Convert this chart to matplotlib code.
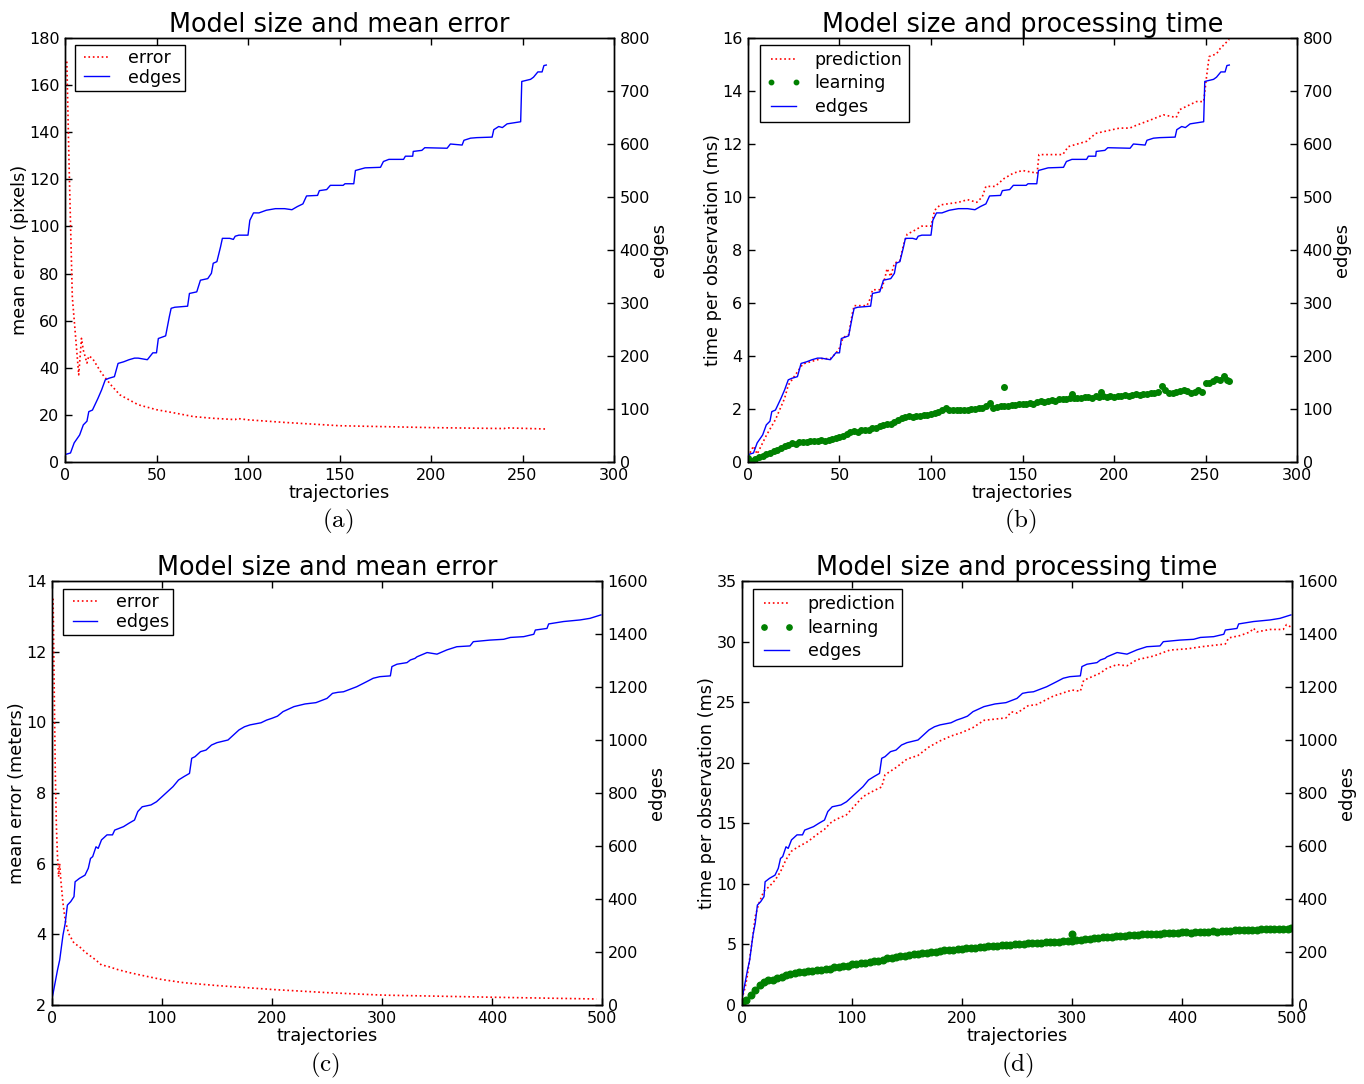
import numpy as np
import matplotlib
matplotlib.use('Agg')
import matplotlib.pyplot as plt

# ---- data ----
# top row: 264 trajectories, edges are the same model in (a) and (b)
edges_top_x = [0, 3, 5, 8, 10, 12, 13, 15, 18, 20, 22, 24, 27, 29, 32, 35, 38, 40, 45, 48, 50, 51, 55, 57, 58, 60,
               67, 68, 72, 74, 78, 80, 81, 83, 85, 86, 90, 92, 93, 95, 100, 101, 103, 106, 110, 115, 120, 124, 127,
               130, 132, 138, 139, 143, 145, 152, 153, 157.8, 158.7, 164, 172.4, 174, 177, 185, 186, 190, 190.3, 195,
               196.6, 208.8, 210.6, 217, 218, 221.6, 225, 233.4, 234.3, 237, 239, 241.6, 249, 249.6, 254.4, 256,
               258.4, 260.7, 261.7, 263]
edges_top = [14, 17, 36, 51, 70, 77, 95, 98, 120, 136, 155, 158, 161, 186, 189, 193, 196, 196, 193, 206, 206, 233,
             238, 274, 290, 292, 294, 318, 321, 343, 346, 356, 375, 378, 406, 422, 422, 420, 426, 428, 428, 456, 470,
             470, 475, 478, 478, 476, 482, 487, 502, 503, 512, 514, 522, 522, 525, 525, 550, 555, 556, 567, 571, 571,
             577, 577, 586, 588, 593, 592, 600, 598, 607, 611, 612, 613, 627, 633, 631, 638, 642, 718, 722, 726, 736,
             736, 748, 749]

error_a_x = [1, 2.2, 4, 7.5, 9, 10, 12, 13, 15, 20, 25, 30, 35, 40, 50, 60, 70, 80, 93, 94, 100, 120, 150, 200,
             240, 241, 263]
error_a = [170, 127, 70, 37, 52.5, 47.5, 42, 45, 44, 37.7, 32.8, 28.5, 26.4, 24.3, 22.2, 20.8, 19.3, 18.6, 18.0,
           18.5, 17.9, 16.8, 15.4, 14.6, 14.2, 14.5, 14.0]

pred_b_x = [0, 3, 5, 10, 15, 20, 22, 25, 28, 30, 35, 40, 45, 48, 50, 52, 55, 57, 58, 65, 67, 68, 73, 75, 76, 78, 80,
            83, 85, 87, 90, 95, 100, 102, 105, 115, 120, 125, 128, 130, 135, 140, 145, 150, 158, 159, 172, 175, 185,
            190, 203, 208.6, 212, 219.7, 227, 234, 236, 245, 249, 250.5, 252, 256, 258, 263]
pred_b = [0.2, 0.6, 0.3, 1.0, 1.6, 2.4, 2.9, 3.2, 3.5, 3.7, 3.8, 3.9, 3.9, 4.1, 4.3, 4.7, 4.8, 5.6, 5.9, 5.9, 6.2,
          6.5, 6.5, 7.0, 7.3, 7.0, 7.5, 7.6, 8.2, 8.6, 8.7, 8.9, 8.9, 9.5, 9.7, 9.8, 9.9, 9.8, 10.0, 10.4, 10.4,
          10.7, 10.9, 11.0, 10.9, 11.6, 11.6, 11.9, 12.1, 12.4, 12.6, 12.6, 12.7, 12.9, 13.1, 13.0, 13.3, 13.6, 13.6,
          14.5, 15.3, 15.4, 15.6, 15.95]

learn_b_x = np.arange(0, 264, 2)
learn_b = [0.15, 0.05, 0.12, 0.18, 0.22, 0.3, 0.34, 0.42, 0.45, 0.52, 0.6, 0.66, 0.7, 0.68, 0.74, 0.76, 0.74, 0.78,
           0.8, 0.8, 0.83, 0.8, 0.84, 0.87, 0.9, 0.95, 1.0, 1.05, 1.15, 1.18, 1.15, 1.2, 1.2, 1.22, 1.28, 1.3, 1.35,
           1.38, 1.42, 1.45, 1.5, 1.58, 1.65, 1.68, 1.72, 1.7, 1.75, 1.74, 1.76, 1.78, 1.8, 1.86, 1.9, 1.95, 2.02,
           1.95, 1.97, 1.96, 1.98, 1.95, 1.97, 1.99, 2.0, 2.02, 2.05, 2.12, 2.22, 2.02, 2.08, 2.1, 2.12, 2.1, 2.15,
           2.14, 2.2, 2.18, 2.2, 2.22, 2.2, 2.28, 2.3, 2.28, 2.32, 2.34, 2.3, 2.36, 2.38, 2.36, 2.42, 2.4, 2.42, 2.4,
           2.44, 2.45, 2.43, 2.48, 2.47, 2.5, 2.46, 2.48, 2.47, 2.5, 2.48, 2.52, 2.5, 2.53, 2.55, 2.52, 2.58, 2.56,
           2.6, 2.62, 2.66, 2.88, 2.7, 2.6, 2.62, 2.64, 2.68, 2.72, 2.68, 2.62, 2.66, 2.7, 2.66, 3.0, 2.98, 3.05,
           3.12, 3.08, 3.25, 3.1]
learn_b_extra_x = [140, 177, 193, 263]
learn_b_extra = [2.82, 2.58, 2.64, 3.06]

# bottom row: 500 trajectories, edges shared by (c) and (d)
edges_bot_x = [0, 1, 3, 5, 7, 9, 10, 12, 14, 17, 20, 21, 25, 30, 33, 35, 37, 40, 42, 45, 50, 55, 57, 65, 70, 75, 78,
               82, 90, 95, 100, 105, 110, 115, 120, 125, 127, 130, 135, 140, 145, 150, 160, 165, 170, 175, 180, 190,
               195, 200, 205, 210, 220, 230, 240, 250, 255, 260, 265, 277, 286, 292, 298, 307.6, 309, 313.6, 322.7,
               325.8, 330, 331.8, 341, 350, 359, 368, 380, 383, 398, 410.6, 416.7, 428.8, 438, 439.4, 450, 451.5,
               465, 480, 489, 499]
edges_bot = [25, 44, 88, 132, 170, 233, 264, 308, 377, 390, 409, 465, 478, 490, 516, 553, 560, 597, 591, 623, 642,
             642, 660, 673, 686, 698, 730, 748, 755, 767, 786, 805, 824, 849, 862, 874, 931, 937, 956, 962, 981, 990,
             1000, 1019, 1038, 1050, 1057, 1065, 1075, 1082, 1090, 1107, 1126, 1136, 1141, 1157, 1176, 1180, 1182,
             1201, 1220, 1233, 1239, 1242, 1277, 1286, 1292, 1302, 1308, 1314, 1330, 1324, 1340, 1352, 1355, 1371,
             1377, 1380, 1387, 1390, 1399, 1415, 1421, 1438, 1447, 1453, 1459, 1472]

error_c_x = [1, 2, 3, 4, 5, 6, 7, 8, 10, 12, 15, 20, 25, 30, 40, 45, 50, 60, 70, 80, 100, 120, 150, 200, 250, 300,
             400, 495]
error_c = [13.5, 11.0, 8.56, 7.05, 6.2, 5.63, 6.0, 5.54, 4.88, 4.4, 4.03, 3.75, 3.65, 3.5, 3.27, 3.13, 3.1, 3.0,
           2.92, 2.85, 2.72, 2.63, 2.55, 2.44, 2.35, 2.28, 2.22, 2.17]

pred_d_x = [0, 3, 5, 8, 10, 12, 15, 18, 20, 25, 30, 35, 40, 45, 50, 60, 70, 75, 80, 85, 95, 100, 110, 120, 127, 130,
            140, 150, 160, 170, 180, 190, 200, 210, 220, 230, 240, 245, 250, 260, 268, 283, 300, 307.6, 310.6, 325.8,
            331.8, 341, 350, 359, 374, 380, 389, 404.5, 420, 439.4, 442.4, 453, 462, 465, 468, 480, 492, 495, 499]
pred_d = [0.5, 1.5, 2.5, 4.5, 5.8, 7.3, 8.3, 9.0, 9.4, 9.8, 10.3, 11.0, 12.0, 12.7, 13.0, 13.5, 14.2, 14.5, 15.0,
          15.3, 15.7, 16.2, 17.2, 17.7, 18.0, 19.0, 19.6, 20.3, 20.6, 21.3, 21.8, 22.2, 22.5, 22.9, 23.5, 23.6, 23.7,
          24.2, 24.1, 24.7, 24.8, 25.5, 26.0, 25.9, 26.8, 27.4, 27.8, 28.1, 28.0, 28.5, 28.8, 29.0, 29.3, 29.4, 29.6,
          29.8, 30.3, 30.5, 30.8, 31.1, 30.8, 31.0, 31.0, 31.4, 31.2]

learn_d_x = np.arange(0, 500, 4)
learn_d = [0.1, 0.4, 0.8, 1.25, 1.65, 1.9, 2.05, 2.1, 2.25, 2.3, 2.45, 2.55, 2.65, 2.7, 2.75, 2.8, 2.82, 2.9, 2.88,
           2.95, 3.0, 3.1, 3.15, 3.2, 3.25, 3.35, 3.38, 3.45, 3.5, 3.52, 3.6, 3.65, 3.72, 3.85, 3.9, 3.98, 4.02, 4.08,
           4.12, 4.2, 4.25, 4.28, 4.3, 4.35, 4.4, 4.48, 4.5, 4.55, 4.56, 4.6, 4.62, 4.68, 4.7, 4.72, 4.78, 4.82, 4.85,
           4.88, 4.9, 4.94, 4.96, 4.98, 5.0, 5.04, 5.06, 5.08, 5.1, 5.12, 5.15, 5.18, 5.2, 5.22, 5.24, 5.28, 5.3,
           5.32, 5.35, 5.38, 5.42, 5.45, 5.5, 5.55, 5.58, 5.6, 5.65, 5.68, 5.72, 5.7, 5.75, 5.78, 5.8, 5.82, 5.85,
           5.88, 5.86, 5.9, 5.92, 5.95, 5.94, 5.98, 6.0, 6.02, 5.98, 6.02, 6.04, 6.05, 6.06, 6.08, 6.06, 6.1, 6.12,
           6.14, 6.15, 6.18, 6.18, 6.2, 6.22, 6.2, 6.24, 6.25, 6.24, 6.26, 6.28, 6.27, 6.3]
learn_d_extra_x = [300, 499]
learn_d_extra = [5.9, 6.35]

plt.rcParams['font.family'] = 'DejaVu Sans'
plt.rcParams['mathtext.fontset'] = 'cm'
fig = plt.figure(figsize=(13.64, 10.84), dpi=100)
W, H = 1364.0, 1084.0


def make_axes(left, top, right, bottom):
    return fig.add_axes([left / W, 1 - bottom / H, (right - left) / W, (bottom - top) / H])


def style(ax, ax2):
    for a in (ax, ax2):
        a.tick_params(direction='in', labelsize=11.5, length=5, width=1, pad=4)
        for s in a.spines.values():
            s.set_linewidth(1)
    ax.tick_params(axis='x', top=True)


def finish(ax, ax2, xmax, xstep, ylim, ystep, ylim2, ystep2, ylabel, title):
    ax.set_xlim(0, xmax)
    ax.set_xticks(np.arange(0, xmax + 1, xstep))
    ax.set_ylim(*ylim)
    ax.set_yticks(np.arange(ylim[0], ylim[1] + 0.01, ystep))
    ax2.set_ylim(*ylim2)
    ax2.set_yticks(np.arange(ylim2[0], ylim2[1] + 1, ystep2))
    ax.set_xlabel('trajectories', fontsize=12.8, labelpad=1)
    ax.set_ylabel(ylabel, fontsize=12.8, labelpad=0)
    ax2.set_ylabel('edges', fontsize=12.8, labelpad=0)
    ax.set_title(title, fontsize=18.4, pad=4)


def legend(ax2, handles, labels, anchor, spacing, pad):
    leg = ax2.legend(handles, labels, loc='upper left', bbox_to_anchor=anchor, borderaxespad=0,
                     fontsize=12.5, fancybox=False, framealpha=1, edgecolor='black',
                     handlelength=2.0, handletextpad=0.8, borderpad=pad, labelspacing=spacing, numpoints=2,
                     markerscale=0.8)
    leg.get_frame().set_linewidth(1)


# (a)
ax = make_axes(65, 38, 614, 462)
ax2 = ax.twinx()
l1, = ax.plot(error_a_x, error_a, 'r:', lw=1.2, label='error')
l2, = ax2.plot(edges_top_x, edges_top, 'b-', lw=1, label='edges')
finish(ax, ax2, 300, 50, (0, 180), 20, (0, 800), 100, 'mean error (pixels)', 'Model size and mean error')
style(ax, ax2)
legend(ax2, [l1, l2], ['error', 'edges'], (0.018, 0.984), 0.08, 0.25)

# (b)
ax = make_axes(748, 38, 1297, 462)
ax2 = ax.twinx()
l1, = ax.plot(pred_b_x, pred_b, 'r:', lw=1.2, label='prediction')
l3, = ax.plot(learn_b_x, learn_b, '.', color='green', ms=8, ls='none', label='learning')
ax.plot(learn_b_extra_x, learn_b_extra, '.', color='green', ms=8, ls='none')
l2, = ax2.plot(edges_top_x, edges_top, 'b-', lw=1, label='edges')
finish(ax, ax2, 300, 50, (0, 16), 2, (0, 800), 100, 'time per observation (ms)', 'Model size and processing time')
style(ax, ax2)
legend(ax2, [l1, l3, l2], ['prediction', 'learning', 'edges'], (0.022, 0.984), 0.32, 0.35)

# (c)
ax = make_axes(52, 581, 602, 1005)
ax2 = ax.twinx()
l1, = ax.plot(error_c_x, error_c, 'r:', lw=1.2, label='error')
l2, = ax2.plot(edges_bot_x, edges_bot, 'b-', lw=1, label='edges')
finish(ax, ax2, 500, 100, (2, 14), 2, (0, 1600), 200, 'mean error (meters)', 'Model size and mean error')
style(ax, ax2)
legend(ax2, [l1, l2], ['error', 'edges'], (0.02, 0.981), 0.08, 0.25)

# (d)
ax = make_axes(742, 581, 1292, 1005)
ax2 = ax.twinx()
l1, = ax.plot(pred_d_x, pred_d, 'r:', lw=1.2, label='prediction')
l3, = ax.plot(learn_d_x, learn_d, '.', color='green', ms=9.5, ls='none', label='learning')
ax.plot(learn_d_extra_x, learn_d_extra, '.', color='green', ms=9.5, ls='none')
l2, = ax2.plot(edges_bot_x, edges_bot, 'b-', lw=1, label='edges')
finish(ax, ax2, 500, 100, (0, 35), 5, (0, 1600), 200, 'time per observation (ms)', 'Model size and processing time')
style(ax, ax2)
legend(ax2, [l1, l3, l2], ['prediction', 'learning', 'edges'], (0.02, 0.981), 0.32, 0.35)

# sub-figure captions
for x, y, s in [(338, 521, '(a)'), (1020, 521, '(b)'), (325, 1065, '(c)'), (1017, 1065, '(d)')]:
    fig.text(x / W, 1 - y / H, r'$\mathrm{' + s + '}$', ha='center', va='center', fontsize=18)

fig.savefig('out.png', dpi=100)
